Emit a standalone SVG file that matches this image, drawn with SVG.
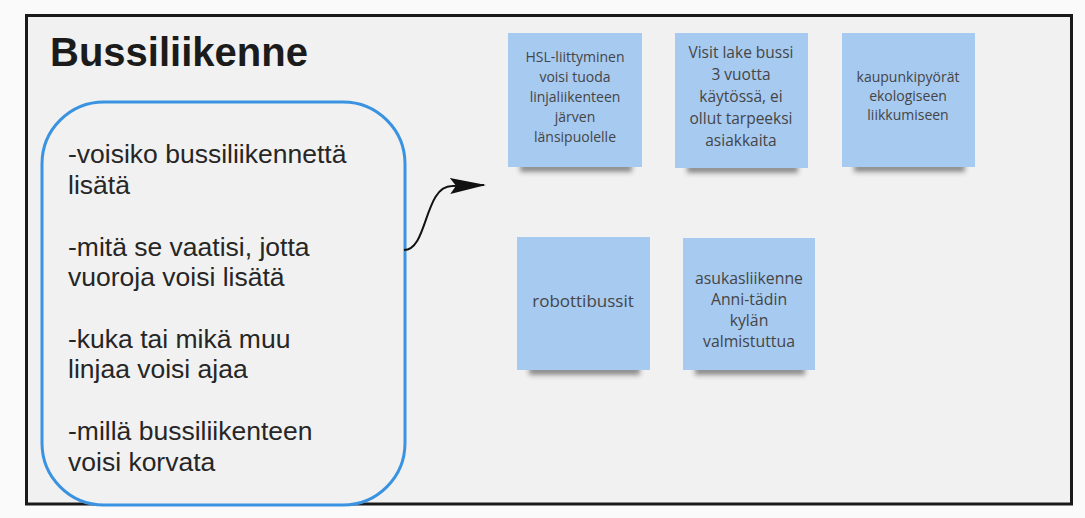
<svg xmlns="http://www.w3.org/2000/svg" width="1085" height="518" viewBox="0 0 1085 518">
  <defs>
    <style>
      .title { font-family: "Liberation Sans", Arial, sans-serif; font-weight: bold; font-size: 40px; fill: #1b1b1b; }
      .body { font-family: "Liberation Sans", Arial, sans-serif; font-size: 26.5px; fill: #262626; }
      .note { fill: #a7caf1; }
      .ntext { font-family: "Open Sans", "Noto Sans", sans-serif; fill: #454545; text-anchor: middle; }
      .shadow { fill: #2a2a2a; opacity: 0.5; filter: url(#soft); }
    </style>
    <filter id="soft" x="-20%" y="-200%" width="140%" height="500%">
      <feGaussianBlur stdDeviation="2.5"/>
    </filter>
    <linearGradient id="paper" x1="0" y1="0" x2="0" y2="1">
      <stop offset="0" stop-color="#a9ccf2"/>
      <stop offset="1" stop-color="#a4c8f0"/>
    </linearGradient>
    <marker id="arrow" viewBox="0 0 36 20" refX="34" refY="10" markerWidth="36" markerHeight="20" markerUnits="userSpaceOnUse" orient="auto">
      <path d="M0,2 L36,10 L0,18 L6,10 Z" fill="#111"/>
    </marker>
  </defs>

  <!-- page background -->
  <rect x="0" y="0" width="1085" height="518" fill="#fafafa"/>

  <!-- board frame -->
  <g id="board">
    <rect x="26.5" y="15.5" width="1045" height="488.5" fill="#f1f1f1" stroke="#1a1a1a" stroke-width="3"/>
    <text class="title" x="50" y="66">Bussiliikenne</text>
  </g>

  <!-- question card -->
  <g id="questions">
    <rect x="42" y="102" width="363" height="403" rx="62" ry="62" fill="#f1f1f1" stroke="#3a93e0" stroke-width="3"/>
    <text class="body" x="68" y="163">-voisiko bussiliikennettä</text>
    <text class="body" x="68" y="194">lisätä</text>
    <text class="body" x="68" y="256">-mitä se vaatisi, jotta</text>
    <text class="body" x="68" y="286">vuoroja voisi lisätä</text>
    <text class="body" x="68" y="348">-kuka tai mikä muu</text>
    <text class="body" x="68" y="378">linjaa voisi ajaa</text>
    <text class="body" x="68" y="440">-millä bussiliikenteen</text>
    <text class="body" x="68" y="471">voisi korvata</text>
  </g>

  <!-- connectors -->
  <g id="connectors">
    <path d="M404,250 C428,250 424,186 452,186 L484,185" fill="none" stroke="#111" stroke-width="2" marker-end="url(#arrow)"/>
  </g>

  <!-- sticky notes, each with a soft shadow under its lower edge -->
  <g id="note-hsl">
    <rect class="shadow" x="520" y="163" width="112" height="9"/>
    <rect class="note" x="508" y="33" width="134" height="134" fill="url(#paper)"/>
    <text class="ntext" font-size="14" x="575" y="62">HSL-liittyminen</text>
    <text class="ntext" font-size="14" x="575" y="82">voisi tuoda</text>
    <text class="ntext" font-size="14" x="575" y="102">linjaliikenteen</text>
    <text class="ntext" font-size="14" x="575" y="122">järven</text>
    <text class="ntext" font-size="14" x="575" y="142">länsipuolelle</text>
  </g>

  <g id="note-visitlake">
    <rect class="shadow" x="687" y="164" width="111" height="9"/>
    <rect class="note" x="675" y="33" width="133" height="135" fill="url(#paper)"/>
    <text class="ntext" font-size="15.5" x="741" y="58">Visit lake bussi</text>
    <text class="ntext" font-size="15.5" x="741" y="80">3 vuotta</text>
    <text class="ntext" font-size="15.5" x="741" y="102">käytössä, ei</text>
    <text class="ntext" font-size="15.5" x="741" y="124">ollut tarpeeksi</text>
    <text class="ntext" font-size="15.5" x="741" y="146">asiakkaita</text>
  </g>

  <g id="note-kaupunkipyorat">
    <rect class="shadow" x="854" y="163" width="111" height="9"/>
    <rect class="note" x="842" y="33" width="133" height="134" fill="url(#paper)"/>
    <text class="ntext" font-size="14" x="908" y="82">kaupunkipyörät</text>
    <text class="ntext" font-size="14" x="908" y="101">ekologiseen</text>
    <text class="ntext" font-size="14" x="908" y="120">liikkumiseen</text>
  </g>

  <g id="note-robotti">
    <rect class="shadow" x="529" y="366" width="111" height="9"/>
    <rect class="note" x="517" y="237" width="133" height="133" fill="url(#paper)"/>
    <text class="ntext" font-size="17" x="583" y="307">robottibussit</text>
  </g>

  <g id="note-asukas">
    <rect class="shadow" x="695" y="366" width="110" height="9"/>
    <rect class="note" x="683" y="238" width="132" height="132" fill="url(#paper)"/>
    <text class="ntext" font-size="15.8" x="749" y="284">asukasliikenne</text>
    <text class="ntext" font-size="15.8" x="749" y="305">Anni-tädin</text>
    <text class="ntext" font-size="15.8" x="749" y="326">kylän</text>
    <text class="ntext" font-size="15.8" x="749" y="347">valmistuttua</text>
  </g>
</svg>
